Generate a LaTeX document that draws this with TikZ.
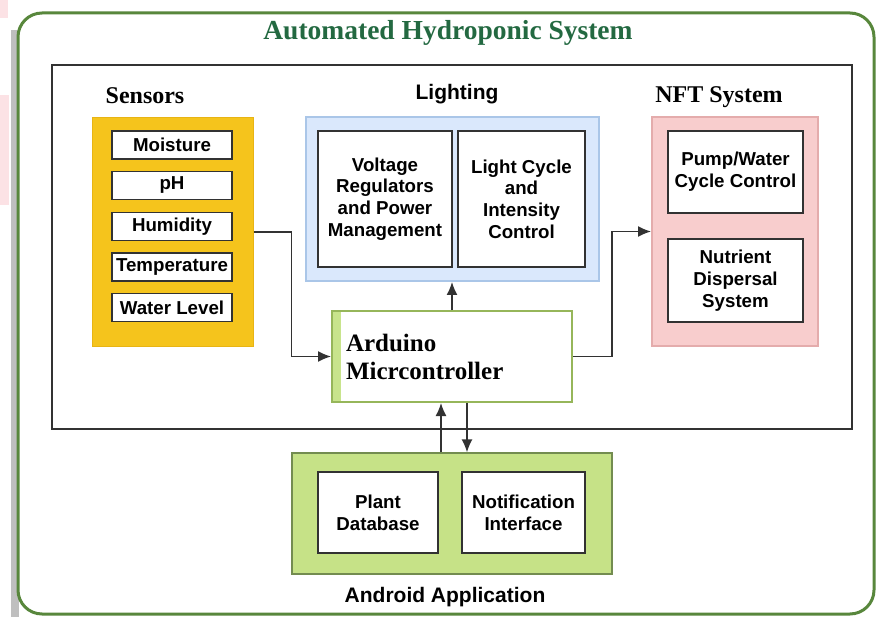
\documentclass[tikz,border=0pt]{standalone}
\usepackage{fontspec}
\setmainfont{Liberation Serif}
\setsansfont{Liberation Sans}
\usetikzlibrary{arrows.meta}
\definecolor{framegreen}{RGB}{88,135,60}
\definecolor{titlegreen}{RGB}{35,105,65}
\definecolor{sensyellow}{RGB}{245,196,28}
\definecolor{sensline}{RGB}{232,180,20}
\definecolor{lightblue}{RGB}{218,232,252}
\definecolor{lightblueline}{RGB}{170,198,232}
\definecolor{nftpink}{RGB}{248,205,205}
\definecolor{nftpinkline}{RGB}{228,172,172}
\definecolor{ardline}{RGB}{150,182,90}
\definecolor{ardstrip}{RGB}{200,228,140}
\definecolor{andgreen}{RGB}{198,226,135}
\definecolor{andline}{RGB}{115,140,80}
\definecolor{boxline}{RGB}{50,50,50}
\definecolor{blotch}{RGB}{252,226,229}

\begin{document}
\begin{tikzpicture}[x=1pt,y=-1pt,
    sftext/.style={font=\sffamily\bfseries\fontsize{18.7}{21.7}\selectfont},
    item/.style={sftext,draw=boxline,line width=1.6pt,fill=white,inner sep=0pt,minimum width=120pt,minimum height=28pt},
    inbox/.style={sftext,draw=boxline,line width=1.6pt,fill=white,inner sep=0pt,align=center},
    head/.style={font=\bfseries\fontsize{24}{28}\selectfont},
    sfhead/.style={font=\sffamily\bfseries\fontsize{21}{24}\selectfont},
    link/.style={draw=boxline,line width=1.4pt,-{Latex[length=13pt,width=11pt]}}]
    \useasboundingbox (0,0) rectangle (877,617);
    \fill[white] (0,0) rectangle (877,617);
    \fill[blotch] (0,0) rectangle (8,18);
    \fill[blotch] (0,95) rectangle (9,205);
    \fill[gray!50] (11,30) rectangle (19,617);
    \draw[framegreen,line width=3pt,rounded corners=24pt,fill=white] (18,13) rectangle (874,614);
    \node[font=\bfseries\fontsize{27.5}{31}\selectfont,text=titlegreen] (title) at (448,33) {Automated Hydroponic System};
    \draw[boxline,line width=1.4pt] (52,65) rectangle (852,429);

    \node[head] (senslabel) at (145,96) {Sensors};
    \node[fill=sensyellow,draw=sensline,line width=1pt,minimum width=161pt,minimum height=228pt] (sens) at (172.5,232) {};
    \node[item] (moist) at (172,145) {Moisture};
    \node[item] (ph) at (172,185.5) {pH};
    \node[item] (humid) at (172,226.5) {Humidity};
    \node[item] (temp) at (172,267) {Temperature};
    \node[item] (level) at (172,307.5) {Water Level};

    \node[sfhead] (lightlabel) at (457,94) {Lighting};
    \node[fill=lightblue,draw=lightblueline,line width=2pt,minimum width=293pt,minimum height=164pt] (light) at (452,199) {};
    \node[inbox,minimum width=134pt,minimum height=136pt] (volt) at (385,199) {Voltage\\Regulators\\and Power\\Management};
    \node[inbox,minimum width=127pt,minimum height=136pt] (cycle) at (521.5,199) {Light Cycle\\and\\Intensity\\Control};

    \node[head] (nftlabel) at (719,97) {NFT System};
    \node[fill=nftpink,draw=nftpinkline,line width=2pt,minimum width=166pt,minimum height=229pt] (nft) at (735,231.5) {};
    \node[inbox,minimum width=135pt,minimum height=82pt] (pump) at (735.5,172) {Pump/Water\\Cycle Control};
    \node[inbox,minimum width=135pt,minimum height=83pt] (nutr) at (735.5,280.5) {Nutrient\\Dispersal\\System};

    \node[draw=ardline,line width=2pt,fill=white,minimum width=240pt,minimum height=91pt,text width=212pt,inner xsep=14pt,align=left,
        font=\bfseries\fontsize{25}{28}\selectfont,
        path picture={\fill[ardstrip] (path picture bounding box.north west) rectangle ([xshift=9pt]path picture bounding box.south west);}]
        (ard) at (452,356.5) {Arduino\\Micrcontroller};

    \node[fill=andgreen,draw=andline,line width=1.4pt,minimum width=320pt,minimum height=121pt] (andr) at (452,513.5) {};
    \node[inbox,minimum width=120pt,minimum height=81pt] (plant) at (378,512.5) {Plant\\Database};
    \node[inbox,minimum width=123pt,minimum height=81pt] (notif) at (523.5,512.5) {Notification\\Interface};
    \node[sfhead] (andlabel) at (445,597) {Android Application};

    \draw[link] (sens.east) -- ++(38,0) |- (ard.west);
    \draw[link] (ard.north) -- (light.south);
    \draw[link] (ard.east) -- ++(39,0) |- (nft.west);
    \draw[link] ([xshift=-11pt]andr.north) -- ([xshift=-11pt]ard.south);
    \draw[link] ([xshift=15pt]ard.south) -- ([xshift=15pt]andr.north);
\end{tikzpicture}
\end{document}
